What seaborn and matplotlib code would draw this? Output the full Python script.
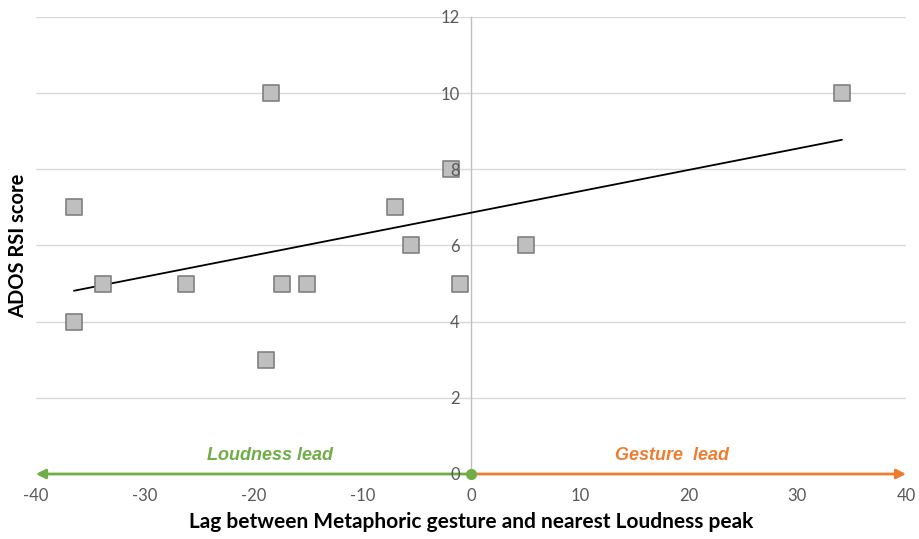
import numpy as np
import pandas as pd
import matplotlib
matplotlib.use("Agg")
import matplotlib.pyplot as plt
import seaborn as sns

lag = [-36.5, -36.5, -33.8, -26.2, -18.4, -18.8, -17.4, -15.1, -7.0, -5.5, -1.8, -1.0, 5.1, 34.1]
ados = [7, 4, 5, 5, 10, 3, 5, 5, 7, 6, 8, 5, 6, 10]
x_ticks = [-40, -30, -20, -10, 0, 10, 20, 30, 40]
y_ticks = [0, 2, 4, 6, 8, 10, 12]

df = pd.DataFrame({"lag": lag, "ados": ados})

sns.set_theme(style="white")
plt.rcParams["font.family"] = ["Lato", "DejaVu Sans"]
plt.rcParams["axes.unicode_minus"] = False

fig = plt.figure(figsize=(9.19, 5.39), dpi=100)
ax = fig.add_axes([0.039, 0.1206, 0.947, 0.848])

green = "#70AD47"
orange = "#ED7D31"
tick_col = "#595959"

ax.set_xlim(-40, 40)
ax.set_ylim(0, 12)
ax.set_xticks(x_ticks)
ax.set_yticks(y_ticks)
ax.grid(False)
for yv in y_ticks[1:]:
    ax.axhline(yv, color="#D9D9D9", lw=1, zorder=0.5)

for s in ["top", "right", "bottom"]:
    ax.spines[s].set_visible(False)
ax.spines["left"].set_position(("data", 0))
ax.spines["left"].set_color("#BFBFBF")
ax.spines["left"].set_linewidth(1)
ax.spines["left"].set_zorder(0.6)

sns.regplot(data=df, x="lag", y="ados", ax=ax, scatter=False, ci=None,
            truncate=True, line_kws=dict(color="black", lw=1.3, zorder=3))
sns.scatterplot(data=df, x="lag", y="ados", ax=ax, marker="s", s=130,
                color="#BFBFBF", edgecolor="#808080", linewidth=1.2, zorder=4)

# direction arrows along x axis
ax.annotate("", xy=(-40, 0), xytext=(0, 0), annotation_clip=False,
            arrowprops=dict(arrowstyle="-|>", color=green, lw=2, mutation_scale=14,
                            shrinkA=0, shrinkB=0), zorder=5)
ax.annotate("", xy=(40, 0), xytext=(0, 0), annotation_clip=False,
            arrowprops=dict(arrowstyle="-|>", color=orange, lw=2, mutation_scale=14,
                            shrinkA=0, shrinkB=0), zorder=5)
ax.plot([0], [0], "o", color=green, ms=7, clip_on=False, zorder=6)

ax.text(-18.5, 0.25, "Loudness lead", color=green, fontsize=13, fontweight="bold",
        fontstyle="italic", family=["Liberation Sans", "DejaVu Sans"], ha="center", va="bottom")
ax.text(18.5, 0.25, "Gesture  lead", color=orange, fontsize=13, fontweight="bold",
        fontstyle="italic", family=["Liberation Sans", "DejaVu Sans"], ha="center", va="bottom")

ax.tick_params(axis="y", length=0, pad=8, labelsize=12, labelcolor=tick_col)
ax.tick_params(axis="x", length=0, pad=10, labelsize=12, labelcolor=tick_col)
ax.xaxis.set_ticks_position("bottom")
ax.yaxis.set_zorder(5.5)

ax.set_xlabel("Lag between Metaphoric gesture and nearest Loudness peak",
              fontsize=15, fontweight="bold", color="black", labelpad=6)
ax.set_ylabel("")
fig.text(0.0196, 0.5445, "ADOS RSI score", rotation=90, ha="center", va="center",
         fontsize=14.5, fontweight="bold", color="black")

fig.savefig("out.png", dpi=100)
